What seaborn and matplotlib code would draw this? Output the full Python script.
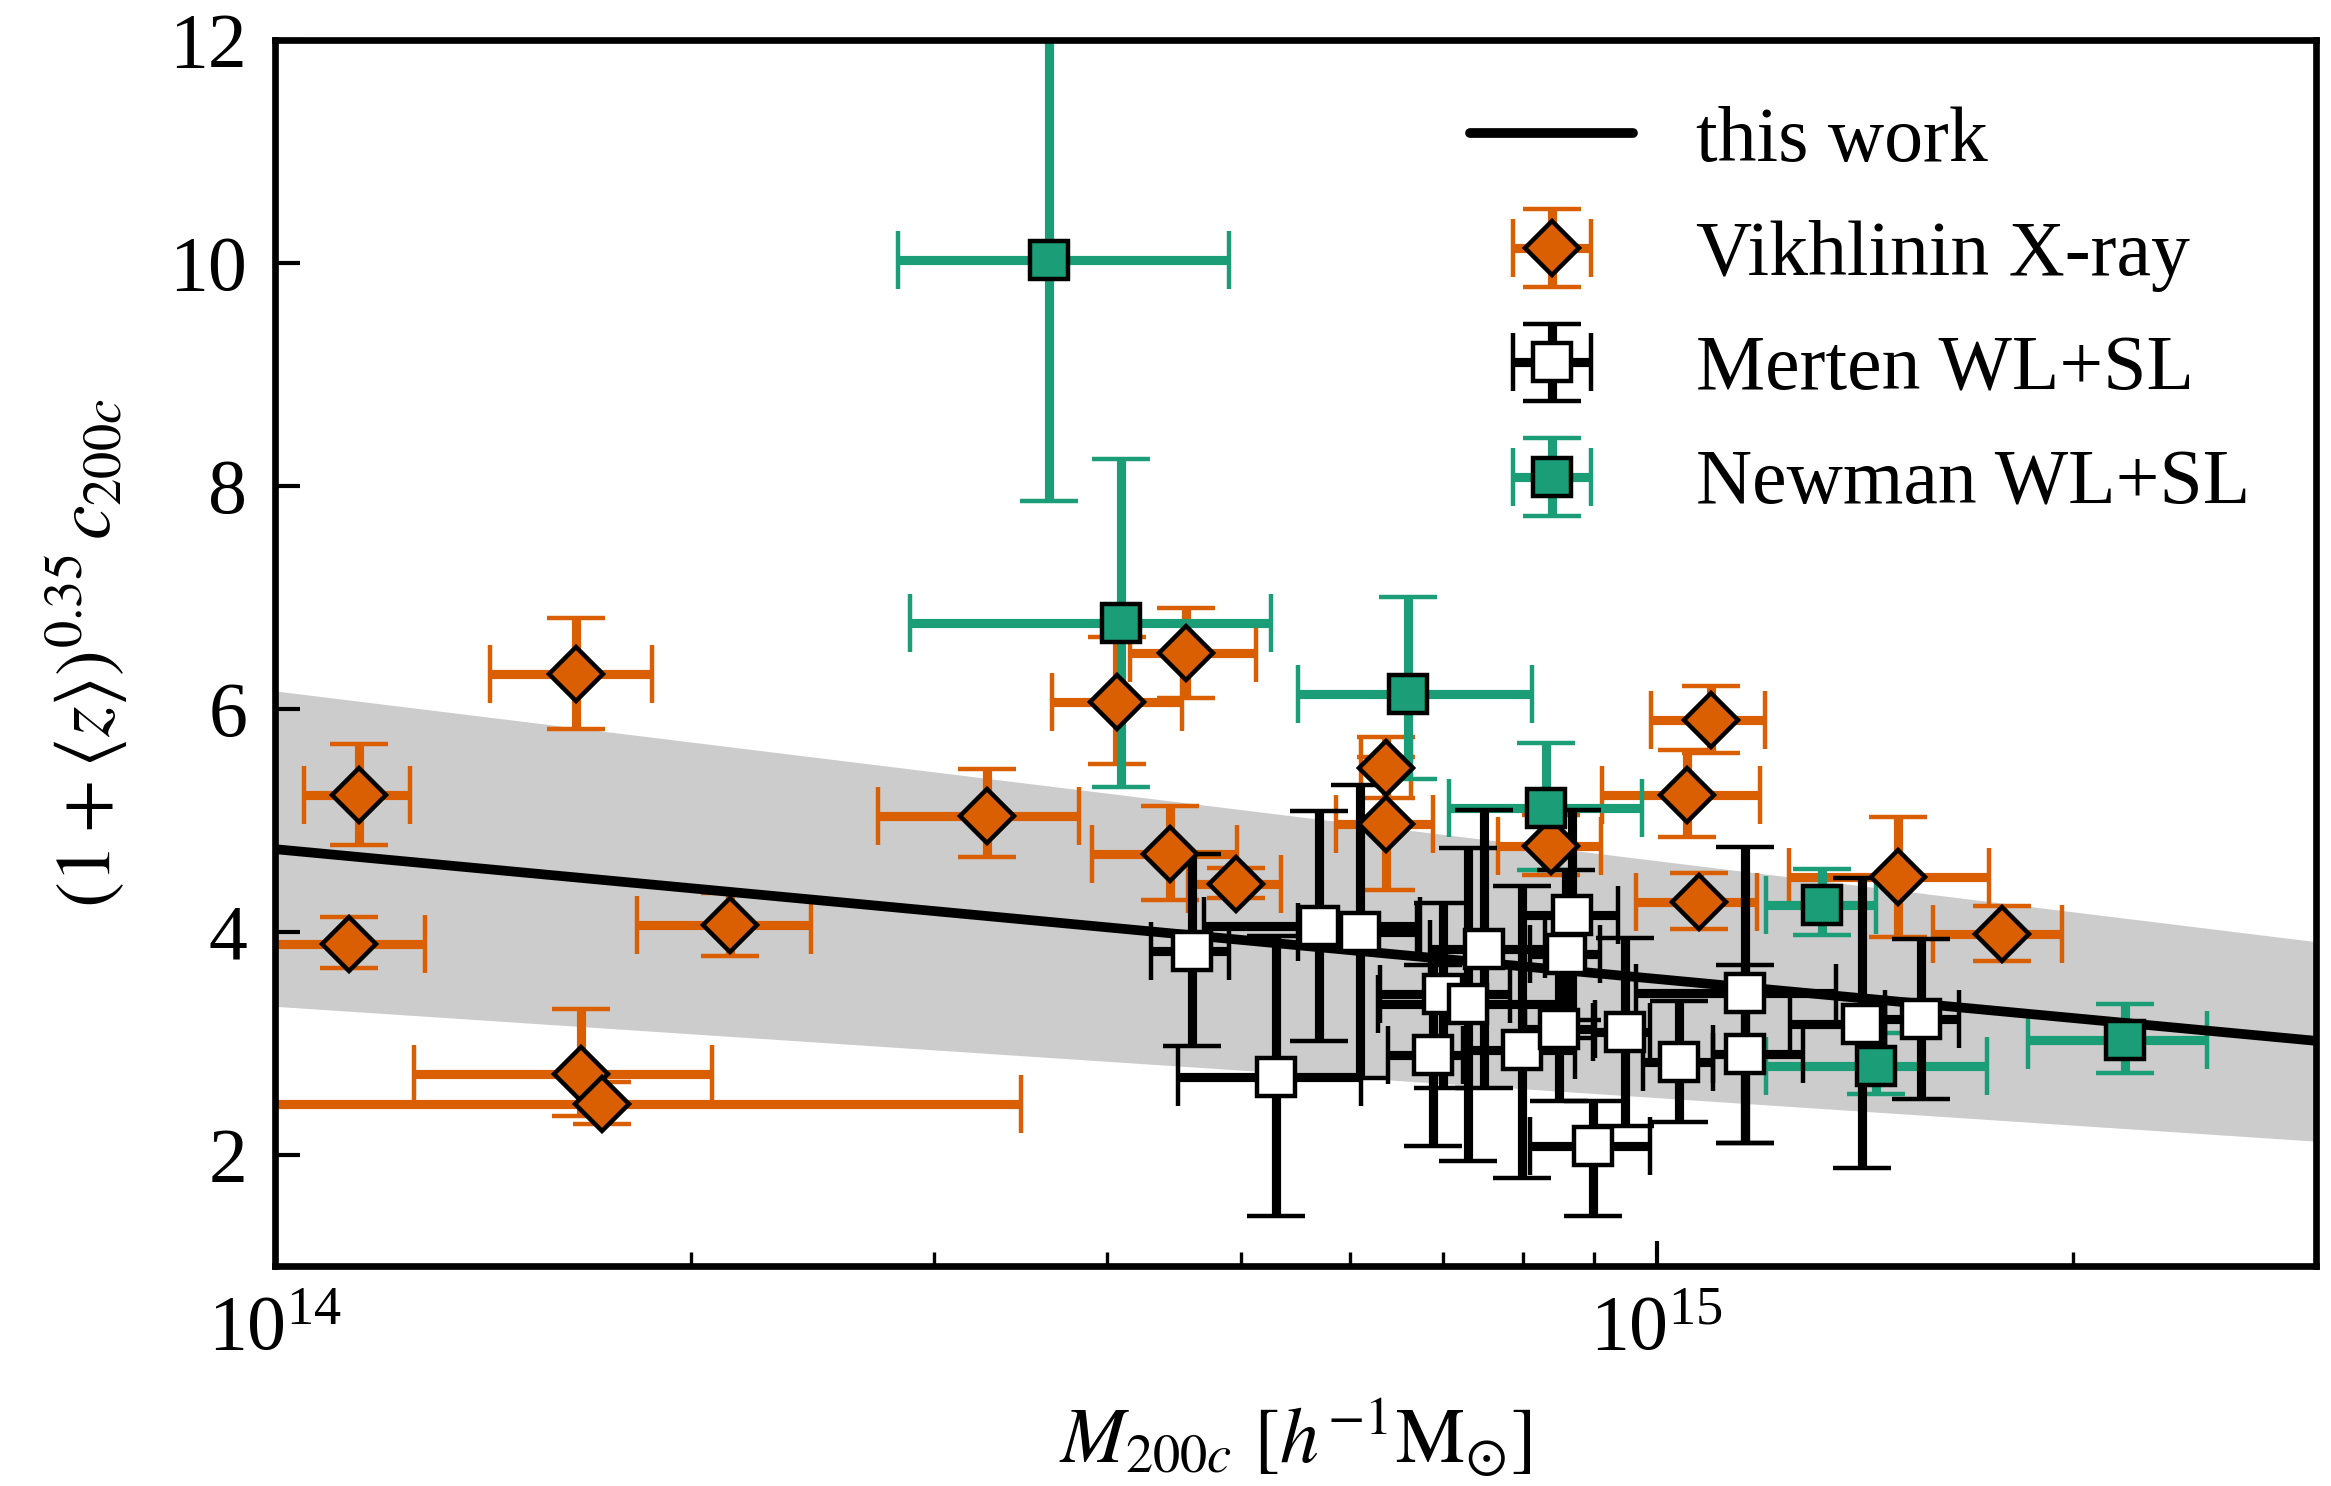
import numpy as np
import matplotlib
matplotlib.use("Agg")
import matplotlib.pyplot as plt
from matplotlib.ticker import NullFormatter, LogLocator, FixedLocator
import seaborn as sns

# ---------------- data (masses in units of 1e14 h^-1 Msun) ----------------
# "this work" fit line and its scatter band, at the two ends of the x-range
fit_mass = [1.0, 30.0]
fit_c = [4.74, 3.02]
band_lo = [3.33, 2.12]
band_hi = [6.16, 3.91]

# Vikhlinin X-ray
vik_mass = [1.150, 1.132, 1.651, 2.136, 1.666, 1.724, 3.275, 4.066, 4.565, 4.443,
            4.960, 6.374, 6.374, 8.381, 10.95, 10.51, 10.73, 14.94, 17.77]
vik_mass_lo = [1.050, 0.990, 1.431, 1.829, 1.260, 0.950, 2.733, 3.649, 4.155, 3.905,
               4.580, 6.114, 5.862, 7.677, 9.913, 9.129, 9.656, 12.46, 15.85]
vik_mass_hi = [1.252, 1.284, 1.874, 2.444, 2.073, 3.466, 3.820, 4.533, 5.129, 4.970,
               5.343, 6.645, 6.888, 9.106, 11.98, 11.88, 11.81, 17.39, 19.66]
vik_c = [5.23, 3.89, 6.31, 4.06, 2.725, 2.456, 5.04, 6.06, 6.50, 4.695,
         4.43, 5.47, 4.97, 4.77, 5.90, 5.23, 4.27, 4.49, 3.98]
vik_c_lo = [4.78, 3.67, 5.82, 3.78, 2.35, 2.27, 4.67, 5.50, 6.10, 4.28,
            4.30, 5.20, 4.37, 4.51, 5.60, 4.85, 4.02, 3.95, 3.74]
vik_c_hi = [5.68, 4.13, 6.81, 4.35, 3.31, 2.65, 5.46, 6.64, 6.90, 5.13,
            4.57, 5.75, 5.57, 5.05, 6.20, 5.63, 4.53, 5.03, 4.23]

# Merten WL+SL
mer_mass = [4.607, 5.298, 5.697, 6.097, 7.004, 7.300, 6.889, 7.499, 7.990, 8.690,
            8.594, 8.494, 9.482, 10.38, 11.58, 11.58, 8.985, 14.07, 15.54]
mer_mass_lo = [4.302, 4.504, 4.701, 5.500, 6.304, 6.285, 6.391, 6.850, 7.323, 7.995,
               8.095, 8.028, 8.995, 9.775, 9.667, 10.98, 8.095, 12.48, 14.62]
mer_mass_hi = [4.901, 6.107, 6.738, 6.701, 7.827, 8.508, 7.243, 8.299, 8.725, 9.376,
               9.095, 9.019, 9.884, 10.98, 13.49, 12.76, 9.884, 14.62, 16.55]
mer_c = [3.83, 2.70, 4.05, 4.00, 3.44, 3.35, 2.89, 3.84, 2.94, 4.15,
         3.80, 3.13, 3.10, 2.83, 3.45, 2.90, 2.08, 3.17, 3.22]
mer_c_lo = [2.97, 1.45, 3.02, 2.69, 2.60, 1.94, 2.08, 2.60, 1.79, 3.21,
            3.05, 2.48, 2.26, 2.29, 2.10, 2.10, 1.45, 1.88, 2.50]
mer_c_hi = [4.70, 3.96, 5.08, 5.32, 4.26, 4.75, 3.70, 5.09, 4.41, 5.09,
            4.55, 3.78, 3.94, 3.38, 4.76, 3.70, 2.48, 4.48, 3.93]

# Newman WL+SL
new_mass = [3.633, 4.095, 6.607, 8.312, 13.16, 14.42, 21.82]
new_mass_lo = [2.825, 2.880, 5.500, 7.073, 12.00, 12.00, 18.57]
new_mass_hi = [4.901, 5.257, 8.124, 9.765, 14.42, 17.34, 25.03]
new_c = [10.03, 6.77, 6.13, 5.11, 4.24, 2.79, 3.03]
new_c_lo = [7.86, 5.30, 5.37, 4.55, 3.97, 2.54, 2.73]
new_c_hi = [12.20, 8.24, 7.00, 5.69, 4.56, 3.09, 3.35]

labels = ["this work", "Vikhlinin X-ray", "Merten WL+SL", "Newman WL+SL"]
ORANGE = "#d95f02"
TEAL = "#1b9e77"
UNIT = 1e14

# ---------------- style ----------------
sns.set_theme(style="ticks")
plt.rcParams.update({
    "font.family": ["Liberation Serif", "DejaVu Serif"],
    "mathtext.fontset": "stix",
    "font.size": 28,
    "axes.linewidth": 2.4,
    "axes.edgecolor": "black",
    "xtick.color": "black",
    "ytick.color": "black",
    "axes.labelcolor": "black",
    "text.color": "black",
})

fig = plt.figure(figsize=(11.655, 7.43), dpi=200)
ax = fig.add_axes([275 / 2331, 1 - 1266 / 1486, (2316 - 275) / 2331, (1266 - 40) / 1486])
ax.set_xscale("log")

fm = np.asarray(fit_mass) * UNIT
ax.fill_between(fm, band_lo, band_hi, color="#cccccc", lw=0, zorder=0.5)
sns.lineplot(x=fm, y=fit_c, color="black", lw=3.5, ax=ax, zorder=2.05, legend=False)
line_handle = ax.lines[-1]


def draw(m, mlo, mhi, c, clo, chi, marker, face, ecol):
    m = np.asarray(m) * UNIT
    mlo = np.asarray(mlo) * UNIT
    mhi = np.asarray(mhi) * UNIT
    c = np.asarray(c)
    xerr = [m - mlo, mhi - m]
    yerr = [c - np.asarray(clo), np.asarray(chi) - c]
    return ax.errorbar(m, c, xerr=xerr, yerr=yerr, fmt=marker, ms=13.5,
                       mfc=face, mec="black", mew=1.6, ecolor=ecol,
                       elinewidth=3.3, capsize=10.5, capthick=1.6)


h_vik = draw(vik_mass, vik_mass_lo, vik_mass_hi, vik_c, vik_c_lo, vik_c_hi, "D", ORANGE, ORANGE)
h_new = draw(new_mass, new_mass_lo, new_mass_hi, new_c, new_c_lo, new_c_hi, "s", TEAL, TEAL)
h_mer = draw(mer_mass, mer_mass_lo, mer_mass_hi, mer_c, mer_c_lo, mer_c_hi, "s", "white", "black")

ax.set_xlim(1e14, 3e15)
ax.set_ylim(1, 12)
ax.yaxis.set_major_locator(FixedLocator([2, 4, 6, 8, 10, 12]))
ax.xaxis.set_major_locator(LogLocator(base=10, numticks=10))
ax.xaxis.set_minor_locator(LogLocator(base=10, subs=np.arange(2, 10), numticks=20))
ax.xaxis.set_minor_formatter(NullFormatter())
ax.tick_params(which="both", direction="in", top=False, right=False, labelsize=28)
ax.tick_params(which="major", length=9, width=1.5, pad=10)
ax.tick_params(which="minor", length=5, width=1.2)
ax.yaxis.set_minor_locator(FixedLocator([]))

ax.set_xlabel(r"$M_{200c}\ [h^{-1}\mathrm{M}_{\odot}]$", fontsize=28, labelpad=11)
ax.set_ylabel(r"$(1+\langle z\rangle)^{0.35}\,c_{200c}$", fontsize=28, labelpad=14)

ax.legend([line_handle, h_vik, h_mer, h_new], labels, loc="upper right",
          frameon=False, fontsize=28, handlelength=2.1, handletextpad=0.8,
          labelspacing=0.55, borderaxespad=0.45)

fig.savefig("out.png", dpi=200)
